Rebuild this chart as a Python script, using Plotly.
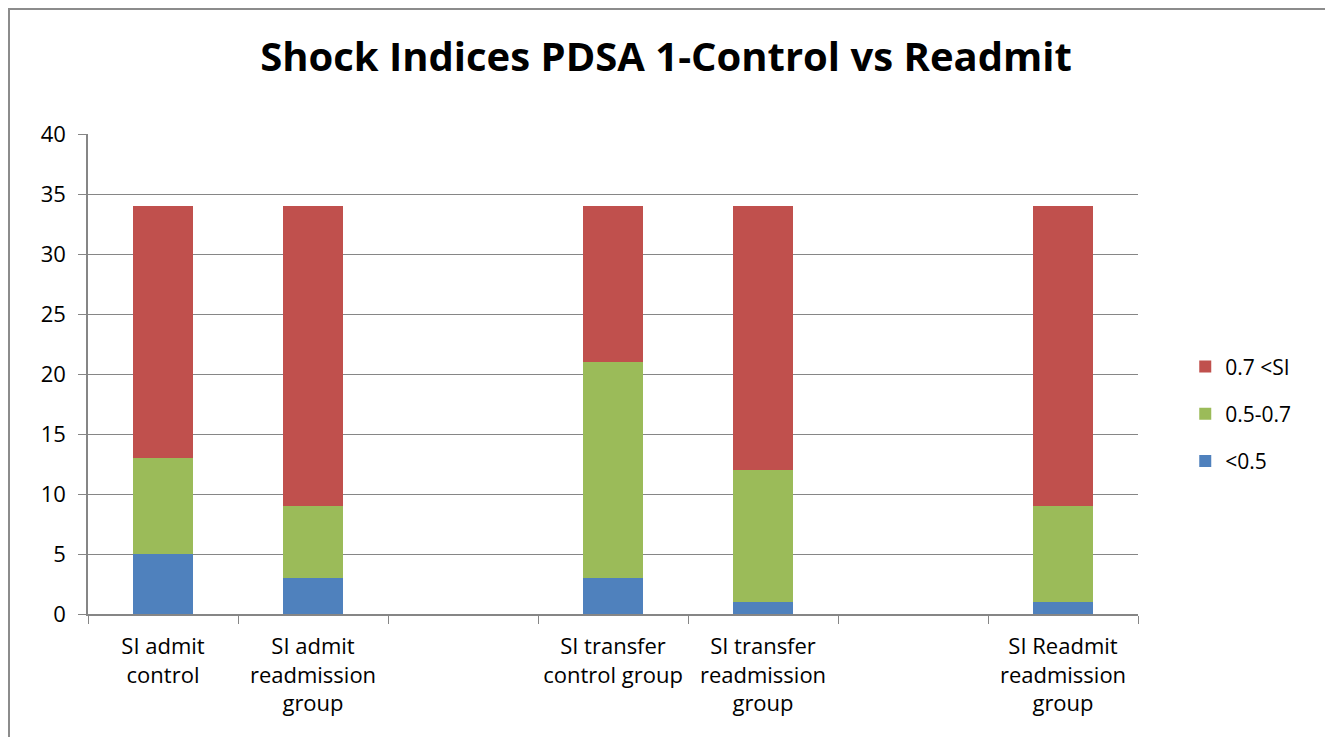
import plotly.graph_objects as go

categories = [
    "SI admit<br>control",
    "SI admit<br>readmission<br>group",
    " ",
    "SI transfer<br>control group",
    "SI transfer<br>readmission<br>group",
    "  ",
    "SI Readmit<br>readmission<br>group",
]
below_05 = [5, 3, None, 3, 1, None, 1]
mid_05_07 = [8, 6, None, 18, 11, None, 8]
above_07 = [21, 25, None, 13, 22, None, 25]

series = [
    ("<0.5", below_05, "#4F81BD"),
    ("0.5-0.7", mid_05_07, "#9BBB59"),
    ("0.7 <SI", above_07, "#C0504D"),
]

FONT = "Open Sans, Liberation Sans, sans-serif"
GRID = "#868686"

# the page body adds an 8px offset, so the figure is laid out 8px up-left
L, T, PW, PH = 80, 126, 1050, 480

fig = go.Figure()
for rank, (name, values, color) in enumerate(series):
    fig.add_bar(
        x=categories, y=values, name=name, marker_color=color,
        marker_line_width=0, width=0.4, legendgroup=name,
        legendrank=1000 - rank,
    )

fig.update_layout(
    barmode="stack",
    width=1333, height=737,
    paper_bgcolor="white", plot_bgcolor="white",
    margin={"l": L, "r": 1333 - L - PW, "t": T, "b": 737 - T - PH},
    font={"family": FONT, "size": 22, "color": "#000000"},
    title={
        "text": "<b>Shock Indices PDSA 1-Control vs Readmit</b>",
        "x": 658 / 1333, "xanchor": "center", "xref": "container",
        "y": 1 - 49 / 737, "yanchor": "middle", "yref": "container",
        "font": {"size": 40, "family": FONT},
    },
    showlegend=True,
    legend={
        "traceorder": "grouped", "x": 1.045, "y": 0.417,
        "yanchor": "middle", "xanchor": "left", "font": {"size": 21},
        "tracegroupgap": 17, "itemwidth": 30,
    },
    bargap=0.6,
)
fig.update_xaxes(
    type="category", tickson="boundaries", ticks="outside", ticklen=8,
    tickcolor=GRID, showline=True, linecolor=GRID, linewidth=1.5,
    showgrid=False, tickangle=0, fixedrange=True,
    tickfont={"size": 22}, ticklabelstandoff=12,
)
fig.update_yaxes(
    range=[0, 40], dtick=5, ticks="outside", ticklen=8, tickcolor=GRID,
    showline=True, linecolor=GRID, linewidth=1.5, gridcolor=GRID,
    gridwidth=1.2, zeroline=False, fixedrange=True, ticklabelstandoff=8,
    tickfont={"size": 22},
)

# outer chart border
fig.add_shape(
    type="rect", xref="paper", yref="paper",
    x0=(1 - L) / PW, x1=(1318 - L) / PW,
    y0=-0.5, y1=(T + PH - 1) / PH,
    line={"color": "#8c8c8c", "width": 2}, fillcolor="rgba(0,0,0,0)",
)

fig.write_html("out.html")
